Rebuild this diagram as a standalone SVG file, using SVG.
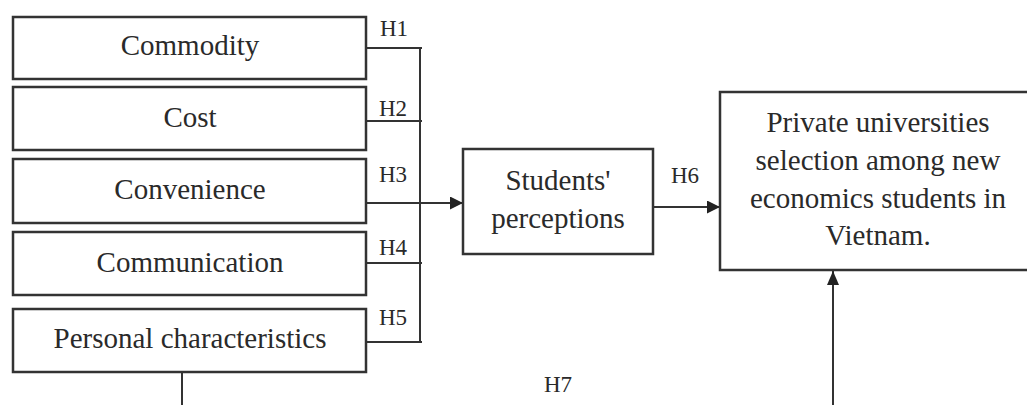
<svg xmlns="http://www.w3.org/2000/svg" width="1027" height="405" viewBox="0 0 1027 405">
<style>
.box{fill:#fff;stroke:#333;stroke-width:2.5}
.t{font-family:"Liberation Serif","Times New Roman",serif;font-size:29px;fill:#2a2a2a;text-anchor:middle}
.h{font-family:"Liberation Serif","Times New Roman",serif;font-size:23px;fill:#2a2a2a;text-anchor:middle}
.ln{fill:none;stroke:#333;stroke-width:2}
</style>
<defs>
<marker id="ah" viewBox="0 0 13 13" refX="13" refY="6.5" markerWidth="13" markerHeight="13" markerUnits="userSpaceOnUse" orient="auto">
<path d="M0,0 L13,6.5 L0,13 Z" fill="#222"/>
</marker>
<marker id="ahv" viewBox="0 0 14 12" refX="14" refY="6" markerWidth="14" markerHeight="12" markerUnits="userSpaceOnUse" orient="auto">
<path d="M0,0 L14,6 L0,12 Z" fill="#222"/>
</marker>
</defs>
<rect width="1027" height="405" fill="#fff"/>
<g id="connectors">
<path class="ln" d="M366,48 H422 M366,121 H422 M366,263 H422 M366,342 H422 M420,47 V343"/>
<path class="ln" d="M366,203 H463" marker-end="url(#ah)"/>
<path class="ln" d="M653,207 H720" marker-end="url(#ah)"/>
<path class="ln" d="M182,372 V405"/>
<path class="ln" d="M833,405 V271" marker-end="url(#ahv)"/>
<text class="h" x="394" y="36">H1</text>
<text class="h" x="393" y="116">H2</text>
<text class="h" x="393" y="182">H3</text>
<text class="h" x="393" y="255">H4</text>
<text class="h" x="393" y="325">H5</text>
<text class="h" x="685" y="183">H6</text>
<text class="h" x="558" y="392">H7</text>
</g>
<g id="commodity">
<rect class="box" x="13" y="17" width="353" height="62"/>
<text class="t" x="190" y="55">Commodity</text>
</g>
<g id="cost">
<rect class="box" x="13" y="87" width="353" height="63"/>
<text class="t" x="190" y="127">Cost</text>
</g>
<g id="convenience">
<rect class="box" x="13" y="159" width="353" height="64"/>
<text class="t" x="190" y="199">Convenience</text>
</g>
<g id="communication">
<rect class="box" x="13" y="232" width="353" height="63"/>
<text class="t" x="190" y="272">Communication</text>
</g>
<g id="personal">
<rect class="box" x="13" y="309" width="353" height="63"/>
<text class="t" x="190" y="348">Personal characteristics</text>
</g>
<g id="perceptions">
<rect class="box" x="463" y="149" width="190" height="105"/>
<text class="t" x="558" y="190">Students'</text>
<text class="t" x="558" y="228">perceptions</text>
</g>
<g id="selection">
<rect class="box" x="720" y="92" width="330" height="178"/>
<text class="t" x="878" y="132">Private universities</text>
<text class="t" x="878" y="170">selection among new</text>
<text class="t" x="878" y="208">economics students in</text>
<text class="t" x="878" y="245">Vietnam.</text>
</g>
</svg>
